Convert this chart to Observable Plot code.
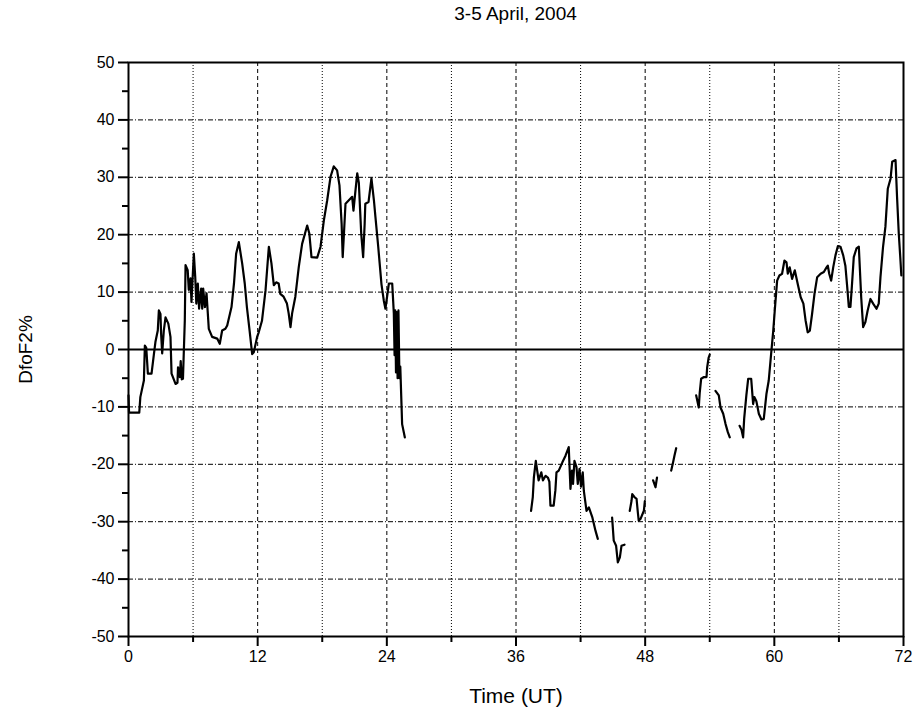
<!DOCTYPE html>
<html>
<head>
<meta charset="utf-8">
<script src="https://cdn.jsdelivr.net/npm/d3@7"></script>
<script src="https://cdn.jsdelivr.net/npm/@observablehq/plot@0.6"></script>
<style>
  html, body { margin: 0; padding: 0; background: #fff; }
  #title { box-sizing: border-box; width: 917px; height: 28px; line-height: 28px; padding-left: 128px; padding-right: 14px;
           text-align: center; font-family: "Liberation Sans", Arial, sans-serif; font-size: 19px; color: #000; }
</style>
</head>
<body>
<div id="title">3-5 April, 2004</div>
<div id="chart"></div>
<script>
// Time (UT, hours) and DfoF2 (%) — null marks a data gap
const hours = [
  0, 0.05, 1.0, 1.1, 1.43, 1.52, 1.65, 1.8, 2.14, 2.35, 2.5, 2.72, 2.82, 2.97, 3.03, 3.13, 3.28, 3.44, 3.7, 3.9,
  4.0, 4.37, 4.55, 4.6, 4.77, 4.85, 4.95, 5.06, 5.23, 5.3, 5.5, 5.6, 5.76, 5.85, 6.07, 6.2, 6.3, 6.44, 6.56, 6.75,
  6.85, 6.94, 7.1, 7.25, 7.46, 7.77, 8.24, 8.48, 8.7, 9.0, 9.17, 9.57, 9.8, 10.0, 10.25, 10.56, 10.8, 11.0, 11.25, 11.49,
  11.64, 11.95, 12.1, 12.4, 12.73, 13.04, 13.28, 13.5, 13.72, 13.95, 14.1, 14.41, 14.72, 14.88, 15.05, 15.2, 15.5, 15.82, 16.13, 16.6,
  16.8, 17.0, 17.53, 17.84, 18.15, 18.46, 18.77, 19.07, 19.38, 19.6, 19.8, 19.9, 20.0, 20.16, 20.47, 20.78, 20.9, 21.06, 21.25, 21.4,
  21.62, 21.8, 21.94, 22.0, 22.3, 22.57, 22.8, 22.94, 23.2, 23.5, 23.72, 23.87, 24.19, 24.5, 24.65, 24.72, 24.78, 24.85, 24.92, 25.0,
  25.08, 25.17, 25.25, 25.42, 25.67,
  null,
  37.4, 37.56, 37.66, 37.84, 37.97, 38.1, 38.35, 38.5, 38.75, 38.96, 39.1, 39.2, 39.5, 39.66, 39.76, 39.97, 40.3, 40.6, 40.9, 41.06,
  41.2, 41.3, 41.43, 41.62, 41.74, 41.9, 42.04, 42.2, 42.3, 42.55, 42.77, 43.1, 43.39, 43.6,
  null,
  44.93, 45.08, 45.3, 45.46, 45.65, 45.8, 46.08,
  null,
  46.57, 46.73, 46.8, 47.0, 47.2, 47.32, 47.4, 47.57, 47.88, 47.97,
  null,
  48.74, 48.96, 49.1,
  null,
  50.42, 50.6, 50.72, 50.88,
  null,
  52.74, 52.98, 53.07, 53.2, 53.46, 53.7, 53.76, 53.9, 54.0,
  null,
  54.53, 54.84, 55.0, 55.25, 55.47, 55.68, 55.86,
  null,
  56.77, 56.95, 57.1, 57.2, 57.4, 57.57, 57.85, 58.03, 58.15, 58.33, 58.56, 58.8, 59.02, 59.27, 59.48, 59.7, 59.9, 60.04, 60.26, 60.47,
  60.72, 60.94, 61.13, 61.25, 61.43, 61.65, 61.9, 62.2, 62.45, 62.7, 62.9, 63.1, 63.3, 63.5, 63.73, 63.98, 64.3, 64.6, 64.85, 64.97,
  65.1, 65.28, 65.47, 65.68, 65.9, 66.15, 66.4, 66.6, 66.77, 66.92, 67.07, 67.2, 67.38, 67.63, 67.85, 67.94, 68.07, 68.25, 68.46, 68.67,
  68.93, 69.18, 69.49, 69.7, 69.86, 70.1, 70.32, 70.54, 70.8, 70.95, 71.26, 71.4, 71.56, 71.7, 71.8
];
const dfof2 = [
  -8, -11, -11, -8.3, -5.4, 0.7, 0.3, -4.2, -4.2, -1, 1.3, 3.3, 6.8, 6.2, 2.7, -0.7, 3.3, 5.6, 4.5, 2.2,
  -4.2, -6, -5.8, -3.1, -4.8, -2, -5.2, -5.1, 5, 14.7, 13.8, 10.4, 12.4, 8.3, 16.7, 12.6, 8, 11.5, 7.1, 10.6,
  7.1, 10.6, 7.4, 9.8, 3.6, 2.2, 1.9, 1.0, 3.3, 3.6, 4.2, 7.4, 11.5, 16.7, 18.7, 15, 11.5, 7.4, 3.3, -0.8,
  -0.5, 2.2, 3.0, 5.0, 10.3, 17.9, 15, 11.2, 11.7, 11.5, 9.7, 9.2, 8, 6.3, 3.9, 6.3, 9.2, 14.4, 18.4, 21.6,
  20.2, 16.1, 16, 17.9, 22.5, 26, 30.1, 31.9, 31.2, 28.6, 21.9, 16.1, 19.6, 25.4, 26, 26.6, 24.2, 27.2, 30.7, 29,
  20.2, 16.1, 21.9, 25.4, 25.7, 29.8, 26, 23.1, 17.9, 11.4, 8.5, 7.1, 11.5, 11.5, 6.3, -1, 6.8, -4, 6.5, -5,
  6.8, -5, -3, -13, -15.3,
  null,
  -28.1, -25.7, -22.3, -19.4, -21.1, -22.8, -21.4, -22.8, -22, -22.3, -23, -27.2, -27.2, -24.5, -21.4, -21.1, -19.7, -18.5, -17.0, -24.3,
  -21.1, -23.4, -19.4, -20.5, -23.4, -20.8, -23.9, -21.4, -24.6, -28.1, -27.5, -29.3, -31.6, -33.0,
  null,
  -29.3, -33.3, -34.2, -37.1, -36.2, -34.2, -34.0,
  null,
  -28.1, -26.4, -25.2, -25.7, -26, -28.4, -29.8, -29.5, -28.1, -26.4,
  null,
  -22.8, -24, -22.3,
  null,
  -21.1, -19.6, -18.5, -17.2,
  null,
  -8.0, -10.1, -7.5, -5.1, -4.8, -4.8, -3.1, -1.4, -0.9,
  null,
  -7.2, -8.0, -10.1, -11.2, -13, -14.4, -15.3,
  null,
  -13.3, -14, -15.3, -12, -8.0, -5.1, -5.1, -9.5, -8.3, -9, -11.2, -12.2, -12.1, -7.7, -5.4, -0.8, 3.3, 6.8, 12.0, 12.9,
  13.2, 15.5, 15.2, 13.2, 14.3, 12.3, 13.8, 11.2, 9.1, 8.0, 5.1, 3.0, 3.3, 6.1, 9.7, 12.6, 13.2, 13.5, 14.3, 14.6,
  13.2, 12.0, 14.3, 16.4, 18.0, 17.9, 16.4, 14.6, 10.9, 7.4, 7.4, 10.9, 16.1, 17.6, 17.9, 14.3, 9.1, 3.9, 4.8, 6.8,
  8.8, 8.0, 7.1, 8.0, 12.6, 17.9, 21.4, 28.0, 29.8, 32.7, 33.0, 26.6, 20.2, 16.1, 12.9
];

const xMajorTicks = [0, 12, 24, 36, 48, 60, 72];
const xMinorTicks = [6, 18, 30, 42, 54, 66];
const yMajorTicks = [-50, -40, -30, -20, -10, 0, 10, 20, 30, 40, 50];
const yMinorTicks = [-45, -35, -25, -15, -5, 5, 15, 25, 35, 45];
const xGridDashed = [12, 24, 36, 48, 60];
const xGridDotted = [6, 18, 30, 42, 54, 66];
const yGrid = [-40, -30, -20, -10, 10, 20, 30, 40];

const tickFont = '"Liberation Sans Narrow", "Liberation Sans", Arial, sans-serif';
const plain = d => String(d);

const chart = Plot.plot({
  width: 917,
  height: 696,
  marginTop: 34,
  marginBottom: 88,
  marginLeft: 128,
  marginRight: 14,
  x: {domain: [0, 72]},
  y: {domain: [-50, 50]},
  style: {fontFamily: tickFont, fontSize: "16px", color: "#000", background: "#fff", overflow: "visible"},
  marks: [
    Plot.ruleY(yGrid, {stroke: "#000", strokeWidth: 1, strokeDasharray: "5,2,1,2"}),
    Plot.ruleX(xGridDashed, {stroke: "#000", strokeWidth: 1, strokeDasharray: "4,3"}),
    Plot.ruleX(xGridDotted, {stroke: "#000", strokeWidth: 1, strokeDasharray: "1,2"}),
    Plot.ruleY([0], {stroke: "#000", strokeWidth: 2}),
    Plot.line(hours, {x: hours, y: dfof2, stroke: "#000", strokeWidth: 2.2, strokeLinejoin: "round"}),
    Plot.frame({stroke: "#000", strokeWidth: 2}),
    Plot.axisX(xMajorTicks, {tickSize: 10, tickPadding: 4, strokeWidth: 2, label: null, fontSize: 16, tickFormat: plain}),
    Plot.axisX(xMinorTicks, {tickSize: 6, strokeWidth: 2, tickFormat: () => "", label: null}),
    Plot.axisY(yMajorTicks, {tickSize: 10, tickPadding: 4, strokeWidth: 2, label: null, fontSize: 16, tickFormat: plain}),
    Plot.axisY(yMinorTicks, {tickSize: 6, strokeWidth: 2, tickFormat: () => "", label: null}),
    Plot.text(["Time (UT)"], {frameAnchor: "bottom", dy: 60, lineAnchor: "middle", fontSize: 21,
      fontFamily: '"Liberation Sans", Arial, sans-serif', fill: "#000"}),
    Plot.text(["DfoF2%"], {frameAnchor: "left", dx: -103, rotate: -90, textAnchor: "middle", lineAnchor: "middle",
      fontSize: 19, fontFamily: '"Liberation Sans", Arial, sans-serif', fill: "#000"})
  ]
});
document.getElementById("chart").appendChild(chart);
</script>
</body>
</html>
